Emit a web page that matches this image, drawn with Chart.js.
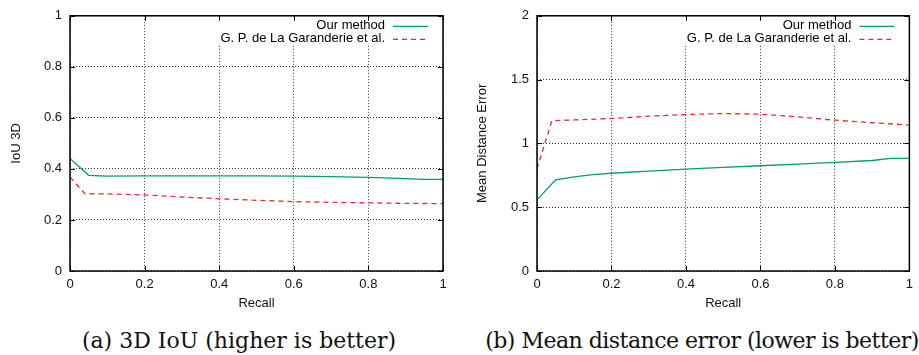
<!DOCTYPE html>
<html>
<head>
<meta charset="utf-8">
<script src="https://cdn.jsdelivr.net/npm/chart.js@4.4.1/dist/chart.umd.min.js"></script>
<style>
  body { margin: 0; background: #fff; width: 919px; height: 355px; overflow: hidden; position: relative; }
  canvas { position: absolute; top: 0; }
  #c1 { left: 0; }
  #c2 { left: 460px; }
  .cap { position: absolute; top: 330px; font-family: "DejaVu Serif", serif; font-size: 22px; line-height: 22px;
         white-space: nowrap; transform: translateX(-50%); color: #111; }
</style>
</head>
<body>
<canvas id="c1" width="460" height="320"></canvas>
<canvas id="c2" width="459" height="320"></canvas>
<div class="cap" style="left:239px">(a) 3D IoU (higher is better)</div>
<div class="cap" style="left:702px; letter-spacing:-0.5px">(b) Mean distance error (lower is better)</div>
<script>
// series names
const seriesNames = ['Our method', 'G. P. de La Garanderie et al.']

// (a) IoU 3D vs recall
const iouOursX = [0, 0.05, 0.1, 0.2, 0.3, 0.4, 0.5, 0.6, 0.7, 0.8, 0.9, 0.95, 1]
const iouOursY = [0.441, 0.375, 0.372, 0.373, 0.373, 0.373, 0.373, 0.372, 0.370, 0.367, 0.362, 0.359, 0.359]
const iouGarX = [0, 0.04, 0.1, 0.2, 0.3, 0.4, 0.5, 0.6, 0.7, 0.8, 0.9, 1]
const iouGarY = [0.368, 0.303, 0.302, 0.298, 0.290, 0.283, 0.277, 0.272, 0.269, 0.267, 0.265, 0.264]

// (b) mean distance error vs recall
const mdeOursX = [0, 0.05, 0.1, 0.15, 0.2, 0.3, 0.4, 0.5, 0.6, 0.7, 0.8, 0.9, 0.95, 1]
const mdeOursY = [0.557, 0.715, 0.737, 0.756, 0.766, 0.782, 0.799, 0.812, 0.825, 0.838, 0.851, 0.866, 0.883, 0.883]
const mdeGarX = [0, 0.04, 0.1, 0.2, 0.3, 0.4, 0.5, 0.6, 0.7, 0.8, 0.9, 1]
const mdeGarY = [0.80, 1.178, 1.184, 1.195, 1.213, 1.226, 1.234, 1.229, 1.208, 1.182, 1.162, 1.144]

// tick labels
const recallTicks = [0, 0.2, 0.4, 0.6, 0.8, 1]
const iouTicks = [0, 0.2, 0.4, 0.6, 0.8, 1]
const mdeTicks = [0, 0.5, 1, 1.5, 2]

const green = 'rgb(0, 158, 115)'
const red = 'rgb(238, 40, 40)'
const font = { family: 'Liberation Sans, Arial, sans-serif', size: 13 }

function pts(xs, ys) {
  return xs.map((x, i) => ({ x: x, y: ys[i] }))
}

// gnuplot-like frame, inward tick marks and opaque key in the top-right corner
const gnuFrame = {
  id: 'gnuFrame',
  afterDatasetsDraw(chart) {
    const ctx = chart.ctx
    const a = chart.chartArea
    const xs = chart.scales.x, ys = chart.scales.y
    ctx.save()
    // key box
    ctx.font = font.size + 'px ' + font.family
    let maxW = 0
    chart.data.datasets.forEach(d => { maxW = Math.max(maxW, ctx.measureText(d.label).width) })
    const textRight = a.right - 58
    ctx.fillStyle = '#fff'
    ctx.fillRect(textRight - maxW - 8, a.top + 1, a.right - (textRight - maxW - 8) - 1, 27)
    // frame
    ctx.strokeStyle = '#000'
    ctx.lineWidth = 1.5
    ctx.strokeRect(a.left, a.top, a.right - a.left, a.bottom - a.top)
    // tick marks
    ctx.lineWidth = 1
    ctx.beginPath()
    xs.ticks.forEach(t => {
      const px = Math.round(xs.getPixelForValue(t.value)) + 0.5
      ctx.moveTo(px, a.bottom); ctx.lineTo(px, a.bottom - 5)
      ctx.moveTo(px, a.top); ctx.lineTo(px, a.top + 5)
    })
    ys.ticks.forEach(t => {
      const py = Math.round(ys.getPixelForValue(t.value)) + 0.5
      ctx.moveTo(a.left, py); ctx.lineTo(a.left + 5, py)
      ctx.moveTo(a.right, py); ctx.lineTo(a.right - 5, py)
    })
    ctx.stroke()
    // key entries
    ctx.textAlign = 'right'
    ctx.textBaseline = 'middle'
    chart.data.datasets.forEach((d, i) => {
      const y = a.top + 10 + i * 13
      ctx.fillStyle = '#000'
      ctx.fillText(d.label, textRight, y)
      ctx.strokeStyle = d.borderColor
      ctx.lineWidth = d.borderWidth
      ctx.setLineDash(d.borderDash || [])
      ctx.beginPath()
      ctx.moveTo(a.right - 50, y + 0.5); ctx.lineTo(a.right - 15, y + 0.5)
      ctx.stroke()
    })
    ctx.restore()
  }
}

function makeChart(id, oursX, oursY, garX, garY, yTicks, yMax, yTitle, yWidth, titlePad, padRight) {
  const ctx = document.getElementById(id)
  return new Chart(ctx, {
    type: 'line',
    data: {
      datasets: [{
        label: seriesNames[0],
        data: pts(oursX, oursY),
        borderColor: green,
        borderWidth: 1.3,
        pointRadius: 0,
        tension: 0
      }, {
        label: seriesNames[1],
        data: pts(garX, garY),
        borderColor: red,
        borderWidth: 1.3,
        borderDash: [5, 4],
        pointRadius: 0,
        tension: 0
      }]
    },
    options: {
      responsive: false,
      animation: false,
      events: [],
      layout: { padding: { top: 10, right: padRight, left: 0, bottom: 0 } },
      plugins: { legend: { display: false }, tooltip: { enabled: false } },
      scales: {
        x: {
          type: 'linear',
          min: 0, max: 1,
          afterBuildTicks: s => { s.ticks = recallTicks.map(v => ({ value: v })) },
          afterFit: s => { s.height = 49 },
          grid: { color: '#333', lineWidth: 1, drawTicks: false },
          border: { display: false, dash: [1, 2] },
          ticks: { font: font, color: '#111', padding: 6, maxRotation: 0, callback: v => String(v) },
          title: { display: true, text: 'Recall', font: font, color: '#111', padding: { top: 0, bottom: 9 } }
        },
        y: {
          min: 0, max: yMax,
          afterBuildTicks: s => { s.ticks = yTicks.map(v => ({ value: v })) },
          afterFit: s => { s.width = yWidth },
          grid: { color: '#333', lineWidth: 1, drawTicks: false },
          border: { display: false, dash: [1, 2] },
          ticks: { font: font, color: '#111', padding: 8, callback: v => String(v) },
          title: { display: true, text: yTitle, font: font, color: '#111', padding: { top: titlePad, bottom: 0 } }
        }
      }
    },
    plugins: [gnuFrame]
  })
}

makeChart('c1', iouOursX, iouOursY, iouGarX, iouGarY, iouTicks, 1, 'IoU 3D', 70, 9, 17)
makeChart('c2', mdeOursX, mdeOursY, mdeGarX, mdeGarY, mdeTicks, 2, 'Mean Distance Error', 77, 15, 9)
</script>
</body>
</html>
